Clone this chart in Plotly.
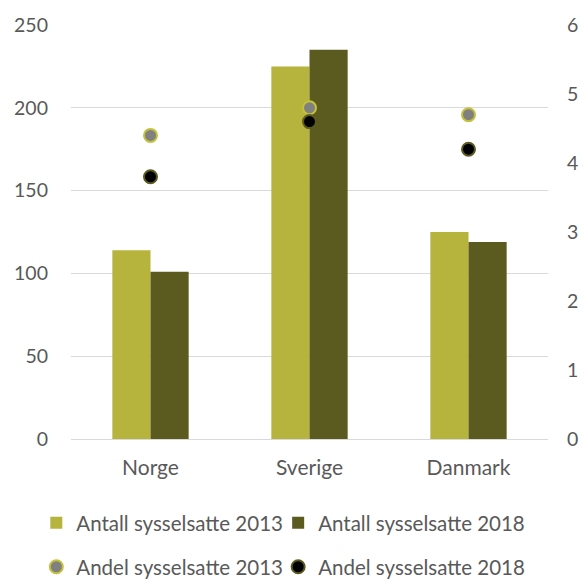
import plotly.graph_objects as go

categories = ["Norge", "Sverige", "Danmark"]
antall_2013 = [114, 225, 125]
antall_2018 = [101, 235, 119]
andel_2013 = [4.4, 4.8, 4.7]
andel_2018 = [3.8, 4.6, 4.2]

left_ticks = [0, 50, 100, 150, 200, 250]
right_ticks = [0, 1, 2, 3, 4, 5, 6]

FONT = "Lato"
TXT = "#595959"
FS = 21
FS_LEG = 20.5
FS_NUM = 19.5

fig = go.Figure()
fig.add_trace(go.Bar(x=categories, y=antall_2013, name="Antall sysselsatte 2013",
                     marker=dict(color="#b6b43c", line=dict(width=0)), legend="legend"))
fig.add_trace(go.Bar(x=categories, y=antall_2018, name="Antall sysselsatte 2018",
                     marker=dict(color="#5c5b1f", line=dict(width=0)), legend="legend2"))
fig.add_trace(go.Scatter(x=categories, y=andel_2013, name="Andel sysselsatte 2013", yaxis="y2",
                         mode="markers", legend="legend3",
                         marker=dict(size=13, color="#808080", line=dict(color="#c4c23a", width=2))))
fig.add_trace(go.Scatter(x=categories, y=andel_2018, name="Andel sysselsatte 2018", yaxis="y2",
                         mode="markers", legend="legend4",
                         marker=dict(size=13, color="#000000", line=dict(color="#5c5b1f", width=2))))

leg_common = dict(orientation="h", xanchor="left", yanchor="middle",
                  font=dict(family=FONT, size=FS_LEG, color=TXT), itemsizing="trace",
                  bgcolor="rgba(0,0,0,0)")
col1_x, col2_x = -0.0727, 0.4343
row1_y, row2_y = -0.203, -0.309

fig.update_layout(
    width=584, height=581,
    margin=dict(l=71, r=36, t=25, b=142, autoexpand=False),
    paper_bgcolor="white", plot_bgcolor="white",
    font=dict(family=FONT, size=FS, color=TXT),
    barmode="group", bargap=0.52, bargroupgap=0,
    showlegend=True,
    legend=dict(x=col1_x, y=row1_y, **leg_common),
    legend2=dict(x=col2_x, y=row1_y, **leg_common),
    legend3=dict(x=col1_x, y=row2_y, **leg_common),
    legend4=dict(x=col2_x, y=row2_y, **leg_common),
    xaxis=dict(showgrid=False, showline=False, ticks="", ticklabelstandoff=14, automargin=False,
               tickfont=dict(size=FS, color=TXT)),
    yaxis=dict(range=[0, 250], tickvals=left_ticks, showgrid=True, gridcolor="#d9d9d9",
               gridwidth=1, zeroline=True, zerolinecolor="#d9d9d9", zerolinewidth=1,
               showline=False, ticklabelstandoff=22, automargin=False,
               tickfont=dict(size=FS_NUM, color=TXT)),
    yaxis2=dict(range=[0, 6], tickvals=right_ticks, overlaying="y", side="right",
                showgrid=False, zeroline=False, showline=False, ticklabelstandoff=18,
                automargin=False, tickfont=dict(size=FS_NUM, color=TXT)),
)

fig.write_html("out.html", config={"displayModeBar": False},
               post_script="document.body.style.margin='0';document.body.style.overflow='hidden';")
